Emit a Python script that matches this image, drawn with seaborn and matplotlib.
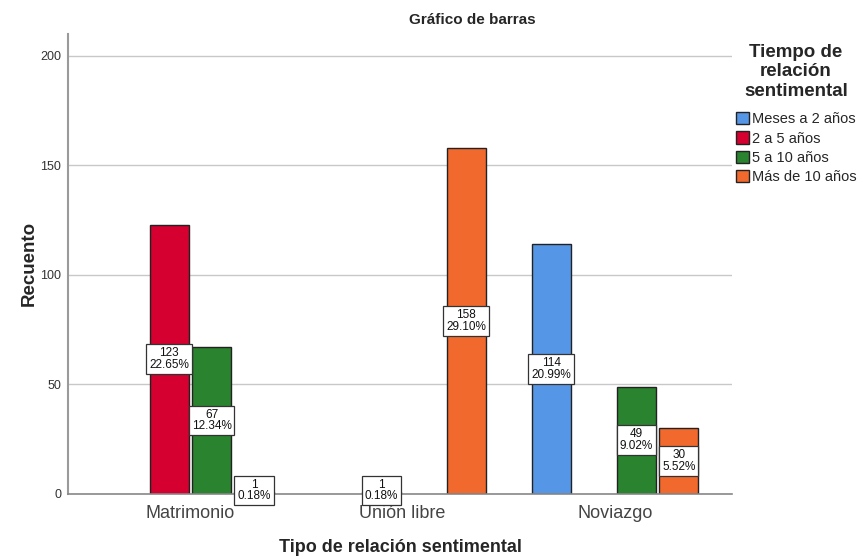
import matplotlib
matplotlib.use("Agg")
import matplotlib.pyplot as plt
import pandas as pd
import seaborn as sns

# data (combinations with zero count are absent)
tipo = ["Matrimonio", "Matrimonio", "Matrimonio",
        "Unión libre", "Unión libre",
        "Noviazgo", "Noviazgo", "Noviazgo"]
tiempo = ["2 a 5 años", "5 a 10 años", "Más de 10 años",
          "2 a 5 años", "Más de 10 años",
          "Meses a 2 años", "5 a 10 años", "Más de 10 años"]
recuento = [123, 67, 1, 1, 158, 114, 49, 30]

tipo_order = ["Matrimonio", "Unión libre", "Noviazgo"]
tiempo_order = ["Meses a 2 años", "2 a 5 años", "5 a 10 años", "Más de 10 años"]
colores = ["#5596E6", "#D5002F", "#2A832F", "#F2692D"]

df = pd.DataFrame({"tipo": tipo, "tiempo": tiempo, "recuento": recuento})
total = sum(recuento)

sns.set_style("white")
plt.rcParams["font.family"] = ["Liberation Sans", "DejaVu Sans"]

fig = plt.figure(figsize=(8.63, 5.58), dpi=100)
ax = fig.add_axes([0.079, 0.115, 0.769, 0.824])

sns.barplot(data=df, x="tipo", y="recuento", hue="tiempo",
            order=tipo_order, hue_order=tiempo_order,
            palette=colores, saturation=1, gap=0.08,
            edgecolor="#222222", linewidth=1, ax=ax, zorder=3)

# boxed count / percentage labels at mid-height of each bar
for cont in ax.containers:
    for bar in cont:
        h = bar.get_height()
        if h <= 0:
            continue
        n = int(round(h))
        ax.text(bar.get_x() + bar.get_width() / 2, max(h / 2, 1.5),
                f"{n}\n{n / total * 100:.2f}%",
                ha="center", va="center", fontsize=8.5, linespacing=0.95,
                color="#111111", zorder=5, clip_on=False,
                bbox=dict(boxstyle="square,pad=0.25", fc="white",
                          ec="#333333", lw=0.9))

ax.set_ylim(0, 210)
ax.set_xlim(-0.575, 2.55)
ax.set_yticks([0, 50, 100, 150, 200])
ax.yaxis.grid(True, color="#C8C8C8", lw=1, zorder=0)
ax.tick_params(axis="y", length=0, labelsize=9, labelcolor="#333333", pad=5)
ax.tick_params(axis="x", length=0, labelsize=13, labelcolor="#444444", pad=8)
for s in ["top", "right"]:
    ax.spines[s].set_visible(False)
ax.spines["left"].set_color("#9A9A9A")
ax.spines["left"].set_linewidth(1.5)
ax.spines["bottom"].set_color("#888888")
ax.spines["bottom"].set_linewidth(1.2)
ax.spines["bottom"].set_zorder(4)

ax.set_xlabel("Tipo de relación sentimental", fontsize=13,
              fontweight="bold", labelpad=12)
ax.set_ylabel("Recuento", fontsize=13.5, fontweight="bold", labelpad=2)
fig.text(0.547, 0.965, "Gráfico de barras", ha="center", va="center",
         fontsize=11, fontweight="bold")

handles, labels = ax.get_legend_handles_labels()
leg = ax.legend(handles, labels, title="Tiempo de\nrelación\nsentimental",
                loc="upper left", bbox_to_anchor=(0.844, 0.935),
                bbox_transform=fig.transFigure, frameon=False,
                fontsize=10.5, handlelength=0.9, handleheight=0.9,
                handletextpad=0.2, labelspacing=0.35, borderpad=0,
                alignment="center")
title = leg.get_title()
title.set_fontweight("bold")
title.set_fontsize(13.5)
title.set_linespacing(1.2)
title.set_multialignment("center")
leg._legend_box.sep = 9

fig.savefig("out.png", dpi=100)
